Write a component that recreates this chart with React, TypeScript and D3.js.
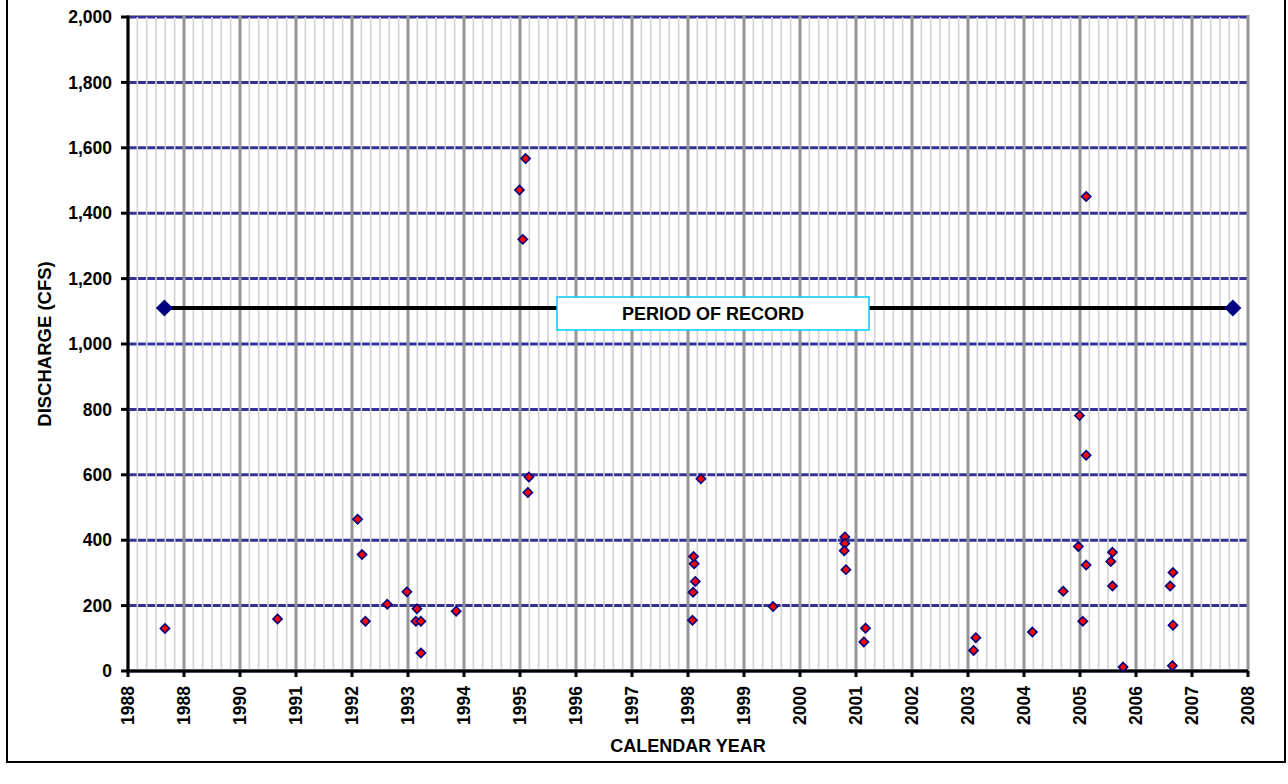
import React from "react";
import * as d3 from "d3";

const sampleDates = [1988.66, 1990.67, 1992.10, 1992.18, 1992.24, 1992.63, 1992.98, 1993.16, 1993.14, 1993.23, 1993.23, 1993.86, 1994.99, 1995.05, 1995.10, 1995.16, 1995.14, 1998.08, 1998.09, 1998.13, 1998.11, 1998.10, 1998.23, 1999.52, 2000.80, 2000.80, 2000.79, 2000.82, 2001.17, 2001.14, 2003.10, 2003.14, 2004.15, 2004.70, 2004.97, 2004.99, 2005.05, 2005.11, 2005.11, 2005.11, 2005.55, 2005.58, 2005.58, 2005.77, 2006.61, 2006.66, 2006.66, 2006.65];
const discharge = [130, 159, 464, 356, 152, 204, 242, 190, 152, 152, 55, 183, 1471, 1320, 1567, 593, 546, 155, 241, 274, 328, 350, 588, 197, 410, 390, 368, 310, 131, 89, 63, 102, 119, 244, 381, 781, 152, 1451, 660, 324, 335, 363, 260, 12, 260, 301, 140, 16];

const periodDates = [1988.65, 2007.73];
const periodValue = [1110, 1110];

const xTickLabels = ["1988", "1988", "1990", "1991", "1992", "1993", "1994", "1995", "1996", "1997", "1998", "1999", "2000", "2001", "2002", "2003", "2004", "2005", "2006", "2007", "2008"];
const yTicks = [0, 200, 400, 600, 800, 1000, 1200, 1400, 1600, 1800, 2000];

const FONT = "Arial, 'Liberation Sans', sans-serif";

export default function App() {
  const x = d3.scaleLinear().domain([1988, 2008]).range([128, 1248]);
  const y = d3.scaleLinear().domain([0, 2000]).range([671, 17]);
  const majorX = xTickLabels.map((_, i) => 1988 + i);
  const minorX: number[] = [];
  for (let i = 0; i < 20; i++) for (let j = 1; j < 6; j++) minorX.push(1988 + i + j / 6);
  const fmt = d3.format(",");
  const diamond = (cx: number, cy: number, r: number) => `M${cx},${cy - r}L${cx + r},${cy}L${cx},${cy + r}L${cx - r},${cy}Z`;
  const line = d3.line<number>().x((d) => x(d)).y((_, i) => y(periodValue[i]));

  return (
    <svg width={1288} height={784} style={{ position: "absolute", left: 0, top: 0, background: "#fff" }} fontFamily={FONT}>
      <rect x={7} y={-5} width={1278} height={767} fill="#fff" stroke="#000" strokeWidth={2} />
      {yTicks.map((t) => (
        <line key={"h" + t} x1={x(1988)} x2={x(2008)} y1={y(t)} y2={y(t)} stroke="#333399" strokeWidth={3} />
      ))}
      {minorX.map((t, i) => (
        <line key={"m" + i} x1={x(t)} x2={x(t)} y1={y(2000)} y2={y(0)} stroke="#d4d4d4" strokeWidth={1.6} />
      ))}
      {majorX.map((t) => (
        <line key={"v" + t} x1={x(t)} x2={x(t)} y1={y(2000) - 1} y2={y(0)} stroke="#969696" strokeWidth={3} />
      ))}
      <line x1={x(1988)} x2={x(2008) + 1.5} y1={y(2000) - 1.5} y2={y(2000) - 1.5} stroke="#969696" strokeWidth={1} />
      <line x1={x(1988)} x2={x(1988)} y1={y(2000) - 1.5} y2={y(0) + 1.5} stroke="#000" strokeWidth={3} />
      <line x1={x(1988) - 1.5} x2={x(2008)} y1={y(0)} y2={y(0)} stroke="#000" strokeWidth={3} />
      {yTicks.map((t) => (
        <g key={"yt" + t}>
          <line x1={x(1988) - 7} x2={x(1988)} y1={y(t)} y2={y(t)} stroke="#000" strokeWidth={3} />
          <text x={112} y={y(t)} dy="0.35em" textAnchor="end" fontSize={17.5} fontWeight="bold">{fmt(t)}</text>
        </g>
      ))}
      {majorX.map((t, i) => (
        <g key={"xt" + t}>
          <line x1={x(t)} x2={x(t)} y1={y(0)} y2={y(0) + 6} stroke="#000" strokeWidth={3} />
          <text transform={`translate(${x(t)},686) rotate(-90)`} dy="0.35em" textAnchor="end" fontSize={17.5} fontWeight="bold">{xTickLabels[i]}</text>
        </g>
      ))}
      <text x={688} y={752} textAnchor="middle" fontSize={18} fontWeight="bold">CALENDAR YEAR</text>
      <text transform={`translate(51,344) rotate(-90)`} textAnchor="middle" fontSize={18.5} fontWeight="bold">DISCHARGE (CFS)</text>
      <path d={line(periodDates) || ""} fill="none" stroke="#000" strokeWidth={4} />
      {periodDates.map((d, i) => (
        <path key={"pd" + i} d={diamond(x(d), y(periodValue[i]), 8.5)} fill="#000080" />
      ))}
      <rect x={557} y={297} width={312} height={33} fill="#fff" stroke="#00CCFF" strokeWidth={1.5} />
      <text x={713} y={313.5} dy="0.35em" textAnchor="middle" fontSize={18} fontWeight="bold">PERIOD OF RECORD</text>
      {sampleDates.map((d, i) => (
        <path key={"p" + i} d={diamond(x(d), y(discharge[i]), 4.6)} fill="#ff0000" stroke="#000080" strokeWidth={1.6} />
      ))}
    </svg>
  );
}
